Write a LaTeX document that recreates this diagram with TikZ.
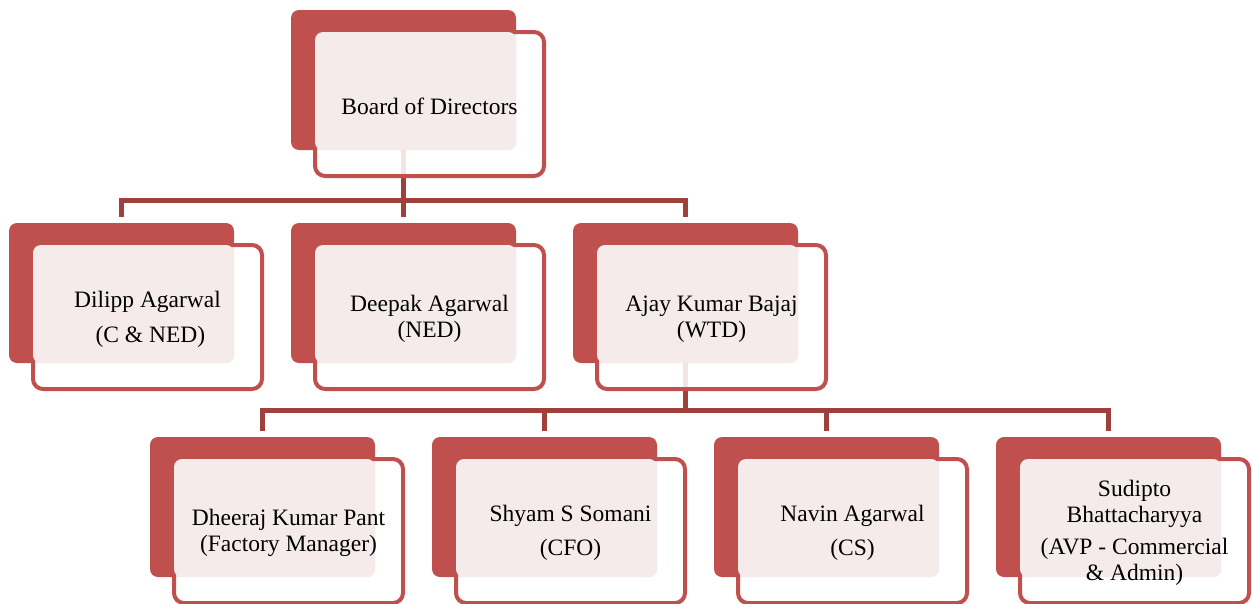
\documentclass[tikz,border=0pt]{standalone}
\usepackage{fontspec}
\setmainfont{Liberation Serif}
\newfontfamily\orgserif{Liberation Serif}
\usetikzlibrary{calc}
\definecolor{redA}{RGB}{192,80,77}
\definecolor{connC}{RGB}{160,64,61}
\definecolor{pinkC}{RGB}{245,235,234}
\tikzset{
  backbox/.style={fill=redA, rounded corners=8pt, minimum width=225pt, minimum height=140pt, inner sep=0pt, draw=none},
  frontbox/.style={draw=redA, line width=4pt, fill=white, fill opacity=0.86, draw opacity=1, rounded corners=10pt, minimum width=229pt, minimum height=144pt, inner sep=0pt},
  conn/.style={draw=connC, line width=5pt, shorten >=6pt},
  txt/.style={align=center, inner sep=0pt, font=\orgserif\fontsize{23.5}{26}\selectfont, text=black},
  pinkarea/.style={fill=pinkC, rounded corners=8pt},
}
\newcommand\backunit[3]{\node[backbox] (#1A) at (#2,#3) {};}
\newcommand\frontunit[4]{%
  \node[frontbox] (#1) at (#2+26,#3+24) {};
  \fill[pinkarea] ([xshift=2pt,yshift=-2pt]#1.north west) rectangle (#1A.south east);
  \node[txt] (#1T) at ([yshift=-2pt]#1) {#4};}
\begin{document}
\begin{tikzpicture}[x=1pt,y=-1pt]
\useasboundingbox (0,0) rectangle (1252,603);
% back boxes
\backunit{bod}{403.5}{80}
\backunit{dil}{121.5}{293}
\backunit{dee}{403.5}{293}
\backunit{aja}{685.5}{293}
\backunit{dhe}{262.5}{507}
\backunit{shy}{544.5}{507}
\backunit{nav}{826.5}{507}
\backunit{sud}{1108.5}{507}
% connectors
\coordinate (busA) at (0,200);
\coordinate (busB) at (0,410);
\draw[conn] (bodA.south) -- (bodA.south |- busA) -| (dilA.north);
\draw[conn] (bodA.south) -- (deeA.north);
\draw[conn] (bodA.south) -- (bodA.south |- busA) -| (ajaA.north);
\draw[conn] (ajaA.south) -- (ajaA.south |- busB) -| (dheA.north);
\draw[conn] (ajaA.south) -- (ajaA.south |- busB) -| (shyA.north);
\draw[conn] (ajaA.south) -- (ajaA.south |- busB) -| (navA.north);
\draw[conn] (ajaA.south) -- (ajaA.south |- busB) -| (sudA.north);
% front boxes
\frontunit{bod}{403.5}{80}{Board of Directors}
\frontunit{dil}{121.5}{293}{Dilipp Agarwal\\[9pt]\ (C \& NED)}
\frontunit{dee}{403.5}{293}{Deepak Agarwal\\(NED)}
\frontunit{aja}{685.5}{293}{Ajay Kumar Bajaj\\(WTD)}
\frontunit{dhe}{262.5}{507}{Dheeraj Kumar Pant\\(Factory Manager)}
\frontunit{shy}{544.5}{507}{Shyam S Somani\\[8pt](CFO)}
\frontunit{nav}{826.5}{507}{Navin Agarwal\\[8pt](CS)}
\frontunit{sud}{1108.5}{507}{Sudipto\\Bhattacharyya\\[6pt](AVP - Commercial\\\& Admin)}
\end{tikzpicture}
\end{document}
